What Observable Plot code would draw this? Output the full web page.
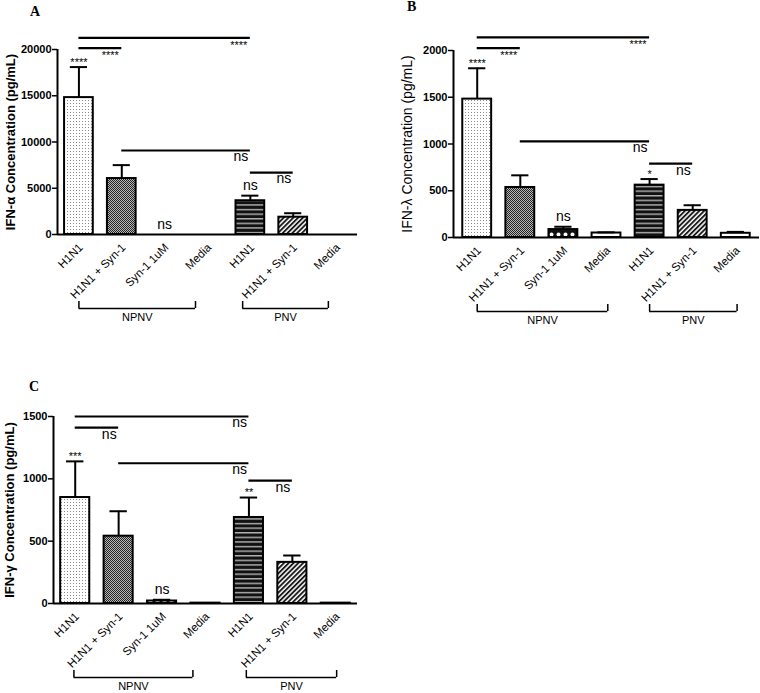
<!DOCTYPE html>
<html>
<head>
<meta charset="utf-8">
<script src="https://cdn.jsdelivr.net/npm/d3@7"></script>
<script src="https://cdn.jsdelivr.net/npm/@observablehq/plot@0.6"></script>
<style>
  html, body { margin: 0; padding: 0; background: #fff; }
  #fig { position: relative; width: 760px; height: 693px; overflow: hidden; font-family: "Liberation Sans", Arial, sans-serif; }
  .panel { position: absolute; }
  .tag { position: absolute; font-family: "Liberation Serif", "Times New Roman", serif; font-weight: bold; font-size: 14px; line-height: 1; }
</style>
</head>
<body>
<svg width="0" height="0" style="position:absolute">
  <defs>
    <pattern id="pDots" width="3" height="3" patternUnits="userSpaceOnUse">
      <rect width="3" height="3" fill="#fff"/>
      <rect x="1" y="1" width="1" height="1" fill="#8a8a8a"/>
    </pattern>
    <pattern id="pDense" width="2" height="2" patternUnits="userSpaceOnUse">
      <rect width="2" height="2" fill="#b8b8b8"/>
      <rect width="1" height="1" fill="#222"/>
      <rect x="1" y="1" width="1" height="1" fill="#222"/>
    </pattern>
    <pattern id="pCircles" width="7" height="7" patternUnits="userSpaceOnUse">
      <rect width="7" height="7" fill="#111"/>
      <circle cx="3.5" cy="3.5" r="2" fill="#fff"/>
    </pattern>
    <pattern id="pHoriz" width="5" height="4.6" patternUnits="userSpaceOnUse">
      <rect width="5" height="4.6" fill="#111"/>
      <rect y="2" width="5" height="1.2" fill="#d0d0d0"/>
    </pattern>
    <pattern id="pDiag" width="3.4" height="3.4" patternUnits="userSpaceOnUse" patternTransform="rotate(45)">
      <rect width="3.4" height="3.4" fill="#fff"/>
      <rect width="1.9" height="3.4" fill="#1a1a1a"/>
    </pattern>
  </defs>
</svg>
<div id="fig">
  <div class="tag" style="left:30px;top:5px">A</div>
  <div class="tag" style="left:407px;top:0px">B</div>
  <div class="tag" style="left:29px;top:380px">C</div>
  <div class="panel" id="panelA" style="left:0px;top:0px"></div>
  <div class="panel" id="panelB" style="left:380px;top:0px"></div>
  <div class="panel" id="panelC" style="left:0px;top:360px"></div>
</div>
<script>
// ---------- data ----------
const categories = ["H1N1", "H1N1 + Syn-1", "Syn-1 1uM", "Media", "H1N1", "H1N1 + Syn-1", "Media"];
const groups = ["NPNV", "PNV"];
const barFills = ["url(#pDots)", "url(#pDense)", "url(#pCircles)", "#fff", "url(#pHoriz)", "url(#pDiag)", "#fff"];

// IFN-alpha (pg/mL)
const ifnAlphaMean = [14800, 6050, 0, 0, 3650, 1870, 0];
const ifnAlphaSem  = [3300, 1450, 0, 0, 550, 430, 0];
const ifnAlphaSig  = ["****", "", "ns", "", "ns", "", ""];
const ifnAlphaComparisons = [
  {from: 0, to: 4, y: 21250, label: "****"},
  {from: 0, to: 1, y: 20140, label: "****"},
  {from: 1, to: 4, y: 9080, label: "ns"},
  {from: 4, to: 5, y: 6700, label: "ns"}
];
const ifnAlphaTicks = [0, 5000, 10000, 15000, 20000];
const ifnAlphaGroupSpans = [[0, 2.72], [3.82, 5.82]];

// IFN-lambda (pg/mL)
const ifnLambdaMean = [1480, 535, 85, 48, 560, 290, 45];
const ifnLambdaSem  = [330, 130, 30, 7, 65, 55, 15];
const ifnLambdaSig  = ["****", "", "ns", "", "*", "", ""];
const ifnLambdaComparisons = [
  {from: 0, to: 4, y: 2140, label: "****"},
  {from: 0, to: 1, y: 2025, label: "****"},
  {from: 1, to: 4, y: 1028, label: "ns"},
  {from: 4, to: 5, y: 790, label: "ns"}
];
const ifnLambdaTicks = [0, 500, 1000, 1500, 2000];
const ifnLambdaGroupSpans = [[0, 3.03], [4, 6.03]];

// IFN-gamma (pg/mL)
const ifnGammaMean = [850, 540, 20, 3, 690, 330, 3];
const ifnGammaSem  = [290, 200, 10, 0, 160, 55, 0];
const ifnGammaSig  = ["***", "", "ns", "", "**", "", ""];
const ifnGammaComparisons = [
  {from: 0, to: 4, y: 1500, label: "ns"},
  {from: 0, to: 1, y: 1410, label: "ns"},
  {from: 1, to: 4, y: 1125, label: "ns"},
  {from: 4, to: 5, y: 985, label: "ns"}
];
const ifnGammaTicks = [0, 500, 1000, 1500];
const ifnGammaGroupSpans = [[-0.03, 2.71], [3.94, 6.02]];

// ---------- rendering ----------
const FONT = '"Liberation Sans", Arial, Helvetica, sans-serif';
const isStars = s => /^\*+$/.test(s);

function renderPanel(cfg) {
  const {mean, sem, sig, comps, ticks, yMax, label, labelWeight, labelSize, labelDx,
         xDomain, width, height, mt, mb, ml, mr, spans} = cfg;
  const frameH = height - mt - mb;
  const pxToY = px => -px * yMax / frameH;   // offset below the baseline, in data units
  const rows = categories.map((name, i) => ({
    i, name, mean: mean[i], sem: sem[i], top: mean[i] + sem[i], sig: sig[i], fill: barFills[i]
  }));
  const half = 0.335, cap = 0.2;
  const brackets = groups.map((g, k) => ({name: g, from: spans[k][0], to: spans[k][1]}));
  const bracketEnds = brackets.flatMap(b => [b.from, b.to]);
  const withErr = rows.filter(d => d.sem > 0);

  return Plot.plot({
    width, height, marginTop: mt, marginBottom: mb, marginLeft: ml, marginRight: mr,
    x: {domain: xDomain, axis: null},
    y: {domain: [0, yMax]},
    color: {type: "identity"},
    style: {fontFamily: FONT, fontSize: "11px", background: "transparent", overflow: "visible", color: "black"},
    marks: [
      // comparison bars
      Plot.ruleY(comps, {x1: "from", x2: "to", y: "y", strokeWidth: 2.2}),
      Plot.text(comps.filter(c => isStars(c.label)), {x: "to", y: "y", text: "label", textAnchor: "end", lineAnchor: "top", dx: -3, dy: 3, fontSize: 11}),
      Plot.text(comps.filter(c => !isStars(c.label)), {x: "to", y: "y", text: "label", textAnchor: "end", lineAnchor: "top", dx: -2, dy: 1, fontSize: 14}),
      // bars
      Plot.rectY(rows, {x1: d => d.i - half, x2: d => d.i + half, y1: 0, y2: "mean", fill: "fill", stroke: "black", strokeWidth: 2}),
      // error bars (upper)
      Plot.ruleX(withErr, {x: "i", y1: "mean", y2: "top", strokeWidth: 2}),
      Plot.ruleY(withErr, {x1: d => d.i - cap, x2: d => d.i + cap, y: "top", strokeWidth: 2}),
      // significance over bars
      Plot.text(rows.filter(d => d.sig && isStars(d.sig)), {x: "i", y: "top", text: "sig", fontSize: 11, dy: -5}),
      Plot.text(rows.filter(d => d.sig && !isStars(d.sig)), {x: "i", y: "top", text: "sig", fontSize: 14, dy: -10}),
      // axes
      Plot.ruleY([0], {strokeWidth: 2}),
      Plot.ruleX([xDomain[0]], {y1: 0, y2: yMax, strokeWidth: 2}),
      Plot.axisY({ticks, tickSize: 5, tickPadding: 1, tickFormat: d => String(d), fontSize: 11, fontWeight: "bold", label: null, strokeWidth: 1.5}),
      Plot.text(rows, {x: "i", y: 0, text: "name", rotate: -45, textAnchor: "end", dx: 2, dy: 11, fontSize: 11.5}),
      // group brackets
      Plot.ruleY(brackets, {x1: "from", x2: "to", y: pxToY(74), strokeWidth: 1.5}),
      Plot.ruleX(bracketEnds, {x: d => d, y1: pxToY(67), y2: pxToY(74), strokeWidth: 1.5}),
      Plot.text(brackets, {x: d => (d.from + d.to) / 2, y: pxToY(83), text: "name", fontSize: 11}),
      // y label
      Plot.text([label], {text: d => d, frameAnchor: "left", textAnchor: "middle", lineAnchor: "middle", dx: labelDx, rotate: -90, fontSize: labelSize, fontWeight: labelWeight})
    ]
  });
}

document.getElementById("panelA").appendChild(renderPanel({
  mean: ifnAlphaMean, sem: ifnAlphaSem, sig: ifnAlphaSig, comps: ifnAlphaComparisons,
  ticks: ifnAlphaTicks, yMax: 20000, label: "IFN-α Concentration (pg/mL)", labelWeight: "bold", labelSize: 13, labelDx: -47,
  xDomain: [-0.5, 6.5], width: 380, height: 330, mt: 49, mb: 96, ml: 57, mr: 23, spans: ifnAlphaGroupSpans
}));
document.getElementById("panelB").appendChild(renderPanel({
  mean: ifnLambdaMean, sem: ifnLambdaSem, sig: ifnLambdaSig, comps: ifnLambdaComparisons,
  ticks: ifnLambdaTicks, yMax: 2000, label: "IFN-λ Concentration (pg/mL)", labelWeight: "normal", labelSize: 14, labelDx: -46,
  xDomain: [-0.55, 6.55], width: 380, height: 330, mt: 50, mb: 93, ml: 73, mr: 1, spans: ifnLambdaGroupSpans
}));
document.getElementById("panelC").appendChild(renderPanel({
  mean: ifnGammaMean, sem: ifnGammaSem, sig: ifnGammaSig, comps: ifnGammaComparisons,
  ticks: ifnGammaTicks, yMax: 1500, label: "IFN-γ Concentration (pg/mL)", labelWeight: "bold", labelSize: 13, labelDx: -44,
  xDomain: [-0.5, 6.5], width: 380, height: 333, mt: 56, mb: 90, ml: 53, mr: 23, spans: ifnGammaGroupSpans
}));
</script>
</body>
</html>
